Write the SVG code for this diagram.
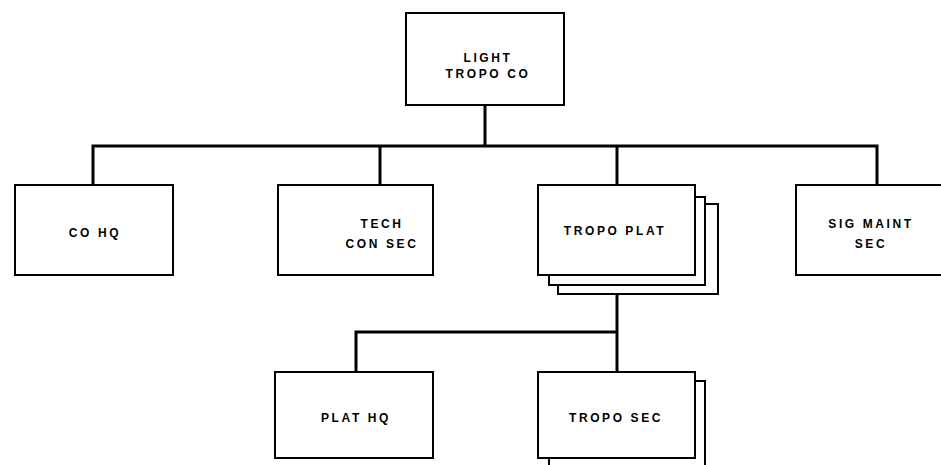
<svg xmlns="http://www.w3.org/2000/svg" width="941" height="465" viewBox="0 0 941 465">
<style>
.box{fill:#fff;stroke:#000;stroke-width:2}
.t{font-family:"Liberation Sans",Arial,sans-serif;font-weight:bold;font-size:12px;letter-spacing:2.6px;text-anchor:middle;fill:#000}
.c{fill:none;stroke:#000;stroke-width:3}
</style>
<rect width="941" height="465" fill="#fff"/>
<g id="connectors">
<polyline class="c" points="485,105 485,146"/>
<polyline class="c" points="93,185 93,146 877,146 877,185"/>
<line class="c" x1="380" y1="146" x2="380" y2="185"/>
<line class="c" x1="617" y1="146" x2="617" y2="185"/>
<line class="c" x1="617" y1="294" x2="617" y2="372"/>
<polyline class="c" points="356,372 356,332 617,332"/>
</g>
<g id="light-tropo-co">
<rect class="box" x="406" y="13" width="158" height="92"/>
<text class="t" x="488" y="62">LIGHT</text>
<text class="t" x="488" y="78">TROPO CO</text>
</g>
<g id="co-hq">
<rect class="box" x="15" y="185" width="158" height="90"/>
<text class="t" x="95" y="237">CO HQ</text>
</g>
<g id="tech-con-sec">
<rect class="box" x="278" y="185" width="155" height="90"/>
<text class="t" x="382" y="228">TECH</text>
<text class="t" x="382" y="248">CON SEC</text>
</g>
<g id="tropo-plat">
<rect class="box" x="558" y="204" width="160" height="90"/>
<rect class="box" x="549" y="197" width="156" height="88"/>
<rect class="box" x="538" y="185" width="157" height="90"/>
<text class="t" x="615" y="235">TROPO PLAT</text>
</g>
<g id="sig-maint-sec">
<rect class="box" x="796" y="185" width="150" height="90"/>
<text class="t" x="871" y="228">SIG MAINT</text>
<text class="t" x="871" y="248">SEC</text>
</g>
<g id="plat-hq">
<rect class="box" x="275" y="372" width="158" height="86"/>
<text class="t" x="356" y="422">PLAT HQ</text>
</g>
<g id="tropo-sec">
<rect class="box" x="549" y="381" width="156" height="90"/>
<rect class="box" x="538" y="372" width="157" height="86"/>
<text class="t" x="616" y="422">TROPO SEC</text>
</g>
</svg>
